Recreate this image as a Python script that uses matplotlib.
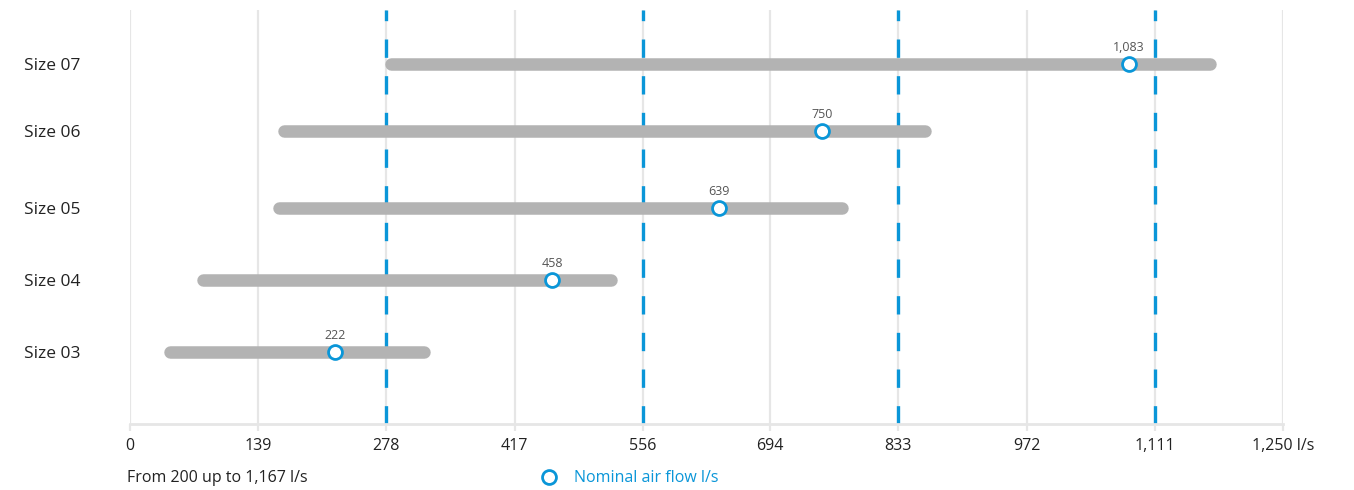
import matplotlib.pyplot as plt

plt.rcParams['font.family'] = ['Open Sans', 'DejaVu Sans']

# air flow ranges per unit size (l/s)
sizes = ['Size 03', 'Size 04', 'Size 05', 'Size 06', 'Size 07']
flow_min = [43, 79, 161, 167, 283]
flow_max = [319, 522, 772, 862, 1171]
nominal = [222, 458, 639, 750, 1083]
nominal_labels = ['222', '458', '639', '750', '1,083']

ticks = [0, 139, 278, 417, 556, 694, 833, 972, 1111, 1250]
tick_labels = ['0', '139', '278', '417', '556', '694', '833', '972', '1,111', '1,250 l/s']
dashed_at = [278, 556, 833, 1111]

blue = '#0a96d8'
gray_bar = '#b3b3b3'
grid_c = '#e6e6e6'

# row positions (top-down), layout only
row_y = [352, 280, 208, 131, 64]

fig = plt.figure(figsize=(13.54, 4.9), dpi=100)
ax = fig.add_axes([130 / 1354, 1 - 424 / 490, 1153 / 1354, 414 / 490])
ax.set_xlim(0, 1250)
ax.set_ylim(424, 10)

for t in ticks:
    ax.axvline(t, color=grid_c, lw=1.6, zorder=0)

for x in dashed_at:
    ax.axvline(x, color=blue, lw=2.4, dashes=(5.5, 5.5), zorder=1)

for i in range(len(sizes)):
    y = row_y[i]
    ax.plot([flow_min[i], flow_max[i]], [y, y], color=gray_bar, lw=9,
            solid_capstyle='round', zorder=2)
    ax.plot(nominal[i], y, 'o', ms=10, mfc='white', mec=blue, mew=2, zorder=3)
    ax.annotate(nominal_labels[i], (nominal[i], y), xytext=(0, 7.5),
                textcoords='offset points', ha='center', va='bottom',
                fontsize=9, color='#555555')

ax.set_yticks(row_y)
ax.set_yticklabels(sizes, fontsize=12.5, color='#222222')
ax.tick_params(axis='y', length=0, pad=76)
for lab in ax.get_yticklabels():
    lab.set_horizontalalignment('left')

ax.set_xticks(ticks)
ax.set_xticklabels(tick_labels, fontsize=11.5, color='#222222')
ax.tick_params(axis='x', length=5, width=1.6, color=grid_c, pad=5)

for s in ['top', 'right', 'left']:
    ax.spines[s].set_visible(False)
ax.spines['bottom'].set_color(grid_c)
ax.spines['bottom'].set_linewidth(2)

# footer legend
fig.text(127 / 1354, 1 - 478 / 490, 'From 200 up to 1,167 l/s', fontsize=11.5,
         color='#222222', va='center', ha='left')
fig.lines.append(plt.Line2D([549 / 1354], [1 - 477 / 490], marker='o', ms=10,
                            mfc='white', mec=blue, mew=2, transform=fig.transFigure))
fig.text(574 / 1354, 1 - 478 / 490, 'Nominal air flow l/s', fontsize=11.5,
         color=blue, va='center', ha='left')

fig.savefig('out.png', dpi=100)
